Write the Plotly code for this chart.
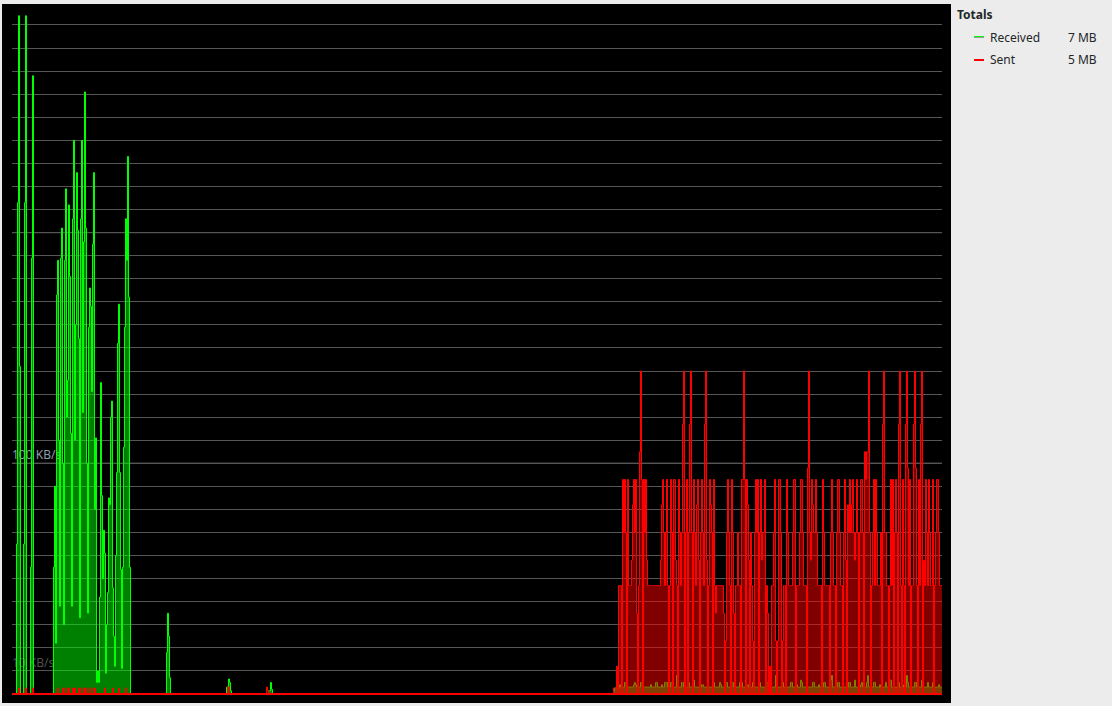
import plotly.graph_objects as go

# ---------------- data: KB/s, one sample per step ----------------
received_kbps = [
    # 0-39
    0, 0, 0, 0, 65, 213, 294, 142, 0, 0,
    0, 65, 213, 294, 0, 0, 0, 0, 55, 189,
    268, 0, 0, 0, 0, 0, 0, 0, 0, 0,
    0, 0, 0, 0, 0, 0, 0, 0, 0, 0,
    # 40-119 main download burst
    0, 55, 90, 22, 173, 188, 110, 38, 189, 202,
    100, 30, 188, 219, 120, 136, 212, 181, 113, 38,
    206, 240, 110, 160, 226, 201, 154, 33, 206, 240,
    122, 196, 261, 202, 100, 35, 159, 176, 168, 131,
    195, 226, 80, 111, 5, 10, 5, 42, 135, 86,
    50, 71, 61, 9, 30, 44, 85, 82, 120, 127,
    46, 25, 12, 60, 96, 152, 169, 96, 54, 11,
    55, 107, 159, 206, 188, 233, 172, 55, 0, 0,
    # 120-259
    0, 0, 0, 0, 0, 0, 0, 0, 0, 0,
    0, 0, 0, 0, 0, 0, 0, 0, 0, 0,
    0, 0, 0, 0, 0, 0, 0, 0, 0, 0,
    0, 0, 0, 0, 18, 35, 25, 7, 0, 0,
    0, 0, 0, 0, 0, 0, 0, 0, 0, 0,
    0, 0, 0, 0, 0, 0, 0, 0, 0, 0,
    0, 0, 0, 0, 0, 0, 0, 0, 0, 0,
    0, 0, 0, 0, 0, 0, 0, 0, 0, 0,
    0, 0, 0, 0, 0, 0, 0, 0, 0, 0,
    0, 0, 0, 0, 3, 3, 6.5, 5, 1.4, 0,
    0, 0, 0, 0, 0, 0, 0, 0, 0, 0,
    0, 0, 0, 0, 0, 0, 0, 0, 0, 0,
    0, 0, 0, 0, 0, 0, 0, 0, 0, 0,
    0, 0, 0, 0, 0, 0, 1.4, 1.4, 5, 2,
    # 260-599 idle
    0, 0, 0, 0, 0, 0, 0, 0, 0, 0,
    0, 0, 0, 0, 0, 0, 0, 0, 0, 0,
    0, 0, 0, 0, 0, 0, 0, 0, 0, 0,
    0, 0, 0, 0, 0, 0, 0, 0, 0, 0,
    0, 0, 0, 0, 0, 0, 0, 0, 0, 0,
    0, 0, 0, 0, 0, 0, 0, 0, 0, 0,
    0, 0, 0, 0, 0, 0, 0, 0, 0, 0,
    0, 0, 0, 0, 0, 0, 0, 0, 0, 0,
    0, 0, 0, 0, 0, 0, 0, 0, 0, 0,
    0, 0, 0, 0, 0, 0, 0, 0, 0, 0,
    0, 0, 0, 0, 0, 0, 0, 0, 0, 0,
    0, 0, 0, 0, 0, 0, 0, 0, 0, 0,
    0, 0, 0, 0, 0, 0, 0, 0, 0, 0,
    0, 0, 0, 0, 0, 0, 0, 0, 0, 0,
    0, 0, 0, 0, 0, 0, 0, 0, 0, 0,
    0, 0, 0, 0, 0, 0, 0, 0, 0, 0,
    0, 0, 0, 0, 0, 0, 0, 0, 0, 0,
    0, 0, 0, 0, 0, 0, 0, 0, 0, 0,
    0, 0, 0, 0, 0, 0, 0, 0, 0, 0,
    0, 0, 0, 0, 0, 0, 0, 0, 0, 0,
    0, 0, 0, 0, 0, 0, 0, 0, 0, 0,
    0, 0, 0, 0, 0, 0, 0, 0, 0, 0,
    0, 0, 0, 0, 0, 0, 0, 0, 0, 0,
    0, 0, 0, 0, 0, 0, 0, 0, 0, 0,
    0, 0, 0, 0, 0, 0, 0, 0, 0, 0,
    0, 0, 0, 0, 0, 0, 0, 0, 0, 0,
    0, 0, 0, 0, 0, 0, 0, 0, 0, 0,
    0, 0, 0, 0, 0, 0, 0, 0, 0, 0,
    0, 0, 0, 0, 0, 0, 0, 0, 0, 0,
    0, 0, 0, 0, 0, 0, 0, 0, 0, 0,
    0, 0, 0, 0, 0, 0, 0, 0, 0, 0,
    0, 0, 0, 0, 0, 0, 0, 0, 0, 0,
    0, 0, 0, 0, 0, 0, 0, 0, 0, 0,
    0, 0, 0, 0, 0, 0, 0, 0, 0, 0,
    # 600-930 background traffic during upload
    0, 1, 2.6, 2.6, 3, 3, 3, 4, 3, 3,
    3, 3, 5, 5, 3, 3, 3, 3, 3, 3,
    3, 4, 5, 4, 3, 3, 3, 3, 5, 5,
    3, 3, 3, 3, 3, 3, 3, 3, 4, 3,
    3, 3, 3, 5, 5, 3, 3, 3, 3, 4,
    3, 3, 5, 5, 5, 3, 3, 3, 5, 5,
    3, 3, 3, 3, 8, 6, 3, 3, 3, 5,
    5, 3, 3, 3, 3, 5, 5, 3, 3, 3,
    8, 6, 3, 3, 3, 3, 3, 3, 3, 4,
    4, 3, 3, 3, 3, 3, 3, 3, 3, 3,
    5, 5, 3, 3, 3, 3, 3, 5, 4, 3,
    3, 3, 3, 5, 5, 3, 3, 3, 3, 5,
    5, 3, 3, 3, 3, 3, 3, 5, 5, 5,
    3, 3, 3, 3, 4, 4, 3, 3, 3, 3,
    5, 5, 3, 3, 3, 3, 3, 5, 3, 3,
    3, 3, 3, 3, 5, 5, 3, 3, 3, 3,
    3, 3, 3, 8, 6, 3, 3, 3, 3, 5,
    5, 3, 3, 3, 3, 3, 3, 3, 5, 5,
    3, 3, 3, 3, 4, 3, 3, 3, 6, 5,
    3, 3, 3, 3, 5, 3, 3, 3, 3, 3,
    5, 5, 3, 3, 3, 3, 4, 3, 3, 3,
    3, 5, 5, 3, 3, 3, 3, 3, 6, 8,
    3, 3, 3, 3, 3, 5, 5, 3, 3, 3,
    4, 3, 3, 3, 3, 3, 5, 5, 3, 3,
    3, 3, 6, 3, 3, 3, 3, 3, 4, 5,
    3, 3, 3, 3, 5, 8, 3, 3, 3, 3,
    3, 5, 5, 3, 3, 3, 3, 4, 3, 3,
    3, 3, 3, 5, 3, 3, 3, 6, 6, 3,
    3, 3, 3, 3, 3, 5, 5, 3, 3, 3,
    4, 3, 3, 3, 8, 5, 3, 3, 3, 3,
    3, 3, 5, 5, 3, 3, 3, 3, 3, 6,
    3, 3, 3, 3, 3, 5, 3, 3, 3, 3,
    5, 5, 3, 3, 3, 3, 4, 3, 3, 3,
    3,
]

sent_kbps = [
    # 0-119
    0, 0, 0, 0, 0, 0, 2.6, 0, 0, 0,
    0, 0, 0, 2.6, 0, 0, 0, 0, 0, 0,
    2.6, 0, 0, 0, 0, 0, 0, 0, 0, 0,
    0, 0, 0, 0, 0, 0, 0, 0, 0, 0,
    0, 0, 0, 0, 0, 2.6, 0, 0, 0, 0,
    2.6, 0, 0, 2.6, 0, 0, 2.6, 0, 0, 0,
    2.6, 0, 2.6, 0, 0, 0, 2.6, 0, 0, 2.6,
    0, 0, 2.6, 0, 0, 2.6, 0, 0, 0, 2.6,
    0, 0, 2.6, 0, 0, 0, 0, 0, 0, 0,
    0, 0, 2.6, 0, 0, 0, 0, 0, 0, 0,
    2.6, 0, 0, 0, 0, 0, 2.6, 0, 0, 0,
    0, 0, 0, 2.6, 0, 0, 0, 0, 0, 0,
    # 120-259
    0, 0, 0, 0, 0, 0, 0, 0, 0, 0,
    0, 0, 0, 0, 0, 0, 0, 0, 0, 0,
    0, 0, 0, 0, 0, 0, 0, 0, 0, 0,
    0, 0, 0, 0, 0, 0, 0, 0, 0, 0,
    0, 0, 0, 0, 0, 0, 0, 0, 0, 0,
    0, 0, 0, 0, 0, 0, 0, 0, 0, 0,
    0, 0, 0, 0, 0, 0, 0, 0, 0, 0,
    0, 0, 0, 0, 0, 0, 0, 0, 0, 0,
    0, 0, 0, 0, 0, 0, 0, 0, 0, 0,
    0, 0, 0, 0, 0, 3, 3, 0, 0, 0,
    0, 0, 0, 0, 0, 0, 0, 0, 0, 0,
    0, 0, 0, 0, 0, 0, 0, 0, 0, 0,
    0, 0, 0, 0, 0, 0, 0, 0, 0, 0,
    0, 0, 0, 0, 3, 1.4, 0, 0, 0, 0,
    # 260-599
    0, 0, 0, 0, 0, 0, 0, 0, 0, 0,
    0, 0, 0, 0, 0, 0, 0, 0, 0, 0,
    0, 0, 0, 0, 0, 0, 0, 0, 0, 0,
    0, 0, 0, 0, 0, 0, 0, 0, 0, 0,
    0, 0, 0, 0, 0, 0, 0, 0, 0, 0,
    0, 0, 0, 0, 0, 0, 0, 0, 0, 0,
    0, 0, 0, 0, 0, 0, 0, 0, 0, 0,
    0, 0, 0, 0, 0, 0, 0, 0, 0, 0,
    0, 0, 0, 0, 0, 0, 0, 0, 0, 0,
    0, 0, 0, 0, 0, 0, 0, 0, 0, 0,
    0, 0, 0, 0, 0, 0, 0, 0, 0, 0,
    0, 0, 0, 0, 0, 0, 0, 0, 0, 0,
    0, 0, 0, 0, 0, 0, 0, 0, 0, 0,
    0, 0, 0, 0, 0, 0, 0, 0, 0, 0,
    0, 0, 0, 0, 0, 0, 0, 0, 0, 0,
    0, 0, 0, 0, 0, 0, 0, 0, 0, 0,
    0, 0, 0, 0, 0, 0, 0, 0, 0, 0,
    0, 0, 0, 0, 0, 0, 0, 0, 0, 0,
    0, 0, 0, 0, 0, 0, 0, 0, 0, 0,
    0, 0, 0, 0, 0, 0, 0, 0, 0, 0,
    0, 0, 0, 0, 0, 0, 0, 0, 0, 0,
    0, 0, 0, 0, 0, 0, 0, 0, 0, 0,
    0, 0, 0, 0, 0, 0, 0, 0, 0, 0,
    0, 0, 0, 0, 0, 0, 0, 0, 0, 0,
    0, 0, 0, 0, 0, 0, 0, 0, 0, 0,
    0, 0, 0, 0, 0, 0, 0, 0, 0, 0,
    0, 0, 0, 0, 0, 0, 0, 0, 0, 0,
    0, 0, 0, 0, 0, 0, 0, 0, 0, 0,
    0, 0, 0, 0, 0, 0, 0, 0, 0, 0,
    0, 0, 0, 0, 0, 0, 0, 0, 0, 0,
    0, 0, 0, 0, 0, 0, 0, 0, 0, 0,
    0, 0, 0, 0, 0, 0, 0, 0, 0, 0,
    0, 0, 0, 0, 0, 0, 0, 0, 0, 0,
    0, 0, 0, 0, 0, 0, 0, 0, 0, 0,
    # 600-930 upload
    0, 2.6, 2.6, 2.6, 12, 0, 47, 47, 47, 0,
    93, 70, 93, 70, 0, 93, 47, 47, 47, 58,
    82, 93, 70, 93, 35, 0, 47, 105, 140, 93,
    0, 93, 70, 93, 58, 47, 47, 47, 47, 47,
    47, 47, 47, 47, 47, 47, 47, 47, 58, 82,
    93, 70, 47, 70, 93, 47, 0, 47, 93, 70,
    0, 93, 93, 58, 47, 0, 93, 70, 47, 70,
    117, 140, 0, 70, 93, 0, 70, 117, 140, 70,
    0, 93, 70, 47, 82, 93, 58, 0, 70, 93,
    70, 47, 117, 140, 58, 0, 47, 93, 82, 70,
    0, 93, 47, 35, 47, 47, 47, 47, 47, 47,
    47, 35, 0, 23, 70, 93, 70, 47, 0, 93,
    70, 35, 0, 47, 47, 70, 47, 47, 0, 93,
    93, 140, 93, 0, 93, 82, 58, 0, 70, 47,
    23, 0, 70, 93, 70, 93, 0, 70, 93, 58,
    70, 70, 93, 0, 47, 35, 0, 12, 0, 47,
    47, 70, 93, 23, 0, 23, 93, 93, 70, 0,
    23, 47, 47, 0, 93, 70, 47, 47, 47, 47,
    70, 93, 93, 0, 47, 47, 47, 70, 93, 93,
    70, 47, 47, 47, 0, 98, 140, 70, 58, 93,
    82, 70, 70, 93, 70, 47, 47, 47, 47, 0,
    93, 70, 47, 47, 47, 47, 47, 0, 70, 93,
    70, 47, 47, 0, 70, 93, 93, 70, 47, 47,
    0, 70, 93, 58, 0, 82, 70, 93, 70, 82,
    93, 70, 58, 70, 93, 70, 0, 70, 93, 93,
    70, 0, 105, 93, 105, 105, 140, 70, 0, 47,
    70, 93, 47, 93, 70, 47, 47, 47, 70, 0,
    117, 140, 70, 70, 47, 47, 0, 47, 93, 47,
    93, 0, 70, 93, 70, 0, 117, 140, 47, 0,
    93, 47, 0, 117, 140, 98, 47, 93, 0, 47,
    47, 117, 140, 98, 47, 0, 93, 47, 117, 140,
    0, 58, 47, 93, 70, 47, 93, 70, 47, 47,
    93, 0, 47, 70, 93, 93, 70, 47, 47, 47,
    47,
]

axis_label_values = [13.4, 103.6]
axis_label_text = [
    '<span style="color:#4e4e4e">10 KB/s</span>',
    '<span style="color:#8f9cab">100 KB/s</span>',
]
bright_grid_values = [100, 200]
legend_names = ["Received", "Sent"]
legend_totals = ["7 MB", "5 MB"]

# ---------------- figure ----------------
x_recv = list(range(len(received_kbps)))
x_sent = list(range(len(sent_kbps)))
n_last = max(len(received_kbps), len(sent_kbps)) - 1

fig = go.Figure()
fig.add_trace(go.Scatter(
    x=x_recv, y=received_kbps, mode="lines", name="Received",
    line=dict(color="#00ff00", width=1, shape="hv"),
    fill="tozeroy", fillcolor="rgba(0,255,0,0.5)", hoverinfo="skip"))
fig.add_trace(go.Scatter(
    x=x_sent, y=sent_kbps, mode="lines", name="Sent",
    line=dict(color="#ff0000", width=1, shape="hv"),
    fill="tozeroy", fillcolor="rgba(255,0,0,0.5)", hoverinfo="skip"))

W, H = 1112, 706
L, R, T, B = 12, 170, 4, 10
pw, ph = W - L - R, H - T - B


def px(xp):
    return (xp - L) / pw


def py(yp):
    return (H - B - yp) / ph


x_lo, x_hi = -0.5, n_last - 0.5

shapes = [
    dict(type="rect", xref="paper", yref="paper", x0=px(2), x1=px(951),
         y0=py(703), y1=py(4), fillcolor="#000000", line=dict(width=0), layer="below"),
]
for v in bright_grid_values:
    shapes.append(dict(type="line", xref="x", yref="y", x0=x_lo, x1=x_hi, y0=v, y1=v,
                       line=dict(color="#a8a8a8", width=1), layer="below"))
# red "sent" baseline drawn over everything, as in the plotter
shapes.append(dict(type="line", xref="x", yref="y", x0=x_lo, x1=x_hi, y0=0, y1=0,
                   line=dict(color="#ff0000", width=2), layer="above"))

# legend swatches
shapes.append(dict(type="line", xref="paper", yref="paper", x0=px(974), x1=px(984),
                   y0=py(36.5), y1=py(36.5), line=dict(color="#00ff00", width=1)))
shapes.append(dict(type="line", xref="paper", yref="paper", x0=px(974), x1=px(984),
                   y0=py(37.5), y1=py(37.5), line=dict(color="#9a9a9a", width=1)))
shapes.append(dict(type="line", xref="paper", yref="paper", x0=px(974), x1=px(984),
                   y0=py(60), y1=py(60), line=dict(color="#ff0000", width=2)))

font_fam = "Noto Sans"
txt = "#232627"
annotations = [
    dict(xref="paper", yref="paper", x=px(955), y=py(14), xanchor="left", yanchor="middle",
         text="<b>Totals</b>", showarrow=False, font=dict(family=font_fam, size=12, color=txt)),
]
for i, (nm, tot) in enumerate(zip(legend_names, legend_totals)):
    yy = 37 + 23 * i
    annotations.append(dict(xref="paper", yref="paper", x=px(988), y=py(yy), xanchor="left",
                            yanchor="middle", text=nm, showarrow=False,
                            font=dict(family=font_fam, size=12, color=txt)))
    annotations.append(dict(xref="paper", yref="paper", x=px(1099), y=py(yy), xanchor="right",
                            yanchor="middle", text=tot, showarrow=False,
                            font=dict(family=font_fam, size=12, color=txt)))

fig.update_layout(
    width=W, height=H,
    margin=dict(l=L, r=R, t=T, b=B, pad=0),
    paper_bgcolor="#ececec",
    plot_bgcolor="#000000",
    showlegend=False,
    shapes=shapes,
    annotations=annotations,
    xaxis=dict(range=[x_lo, x_hi], showgrid=False, zeroline=False,
               showticklabels=False, ticks="", showline=False, fixedrange=True),
    yaxis=dict(range=[-0.87, 299.1], tickmode="array", tickvals=axis_label_values,
               ticktext=axis_label_text, showgrid=False, zeroline=False,
               ticks="", showline=False, ticklabelposition="inside", ticklabelstandoff=-3,
               layer="below traces",
               tickfont=dict(family=font_fam, size=12, color="#8f9cab"),
               minor=dict(tickmode="linear", tick0=0, dtick=10, showgrid=True,
                          gridcolor="#555555", gridwidth=1, ticks=""),
               fixedrange=True),
)

fig.write_html("out.html")
